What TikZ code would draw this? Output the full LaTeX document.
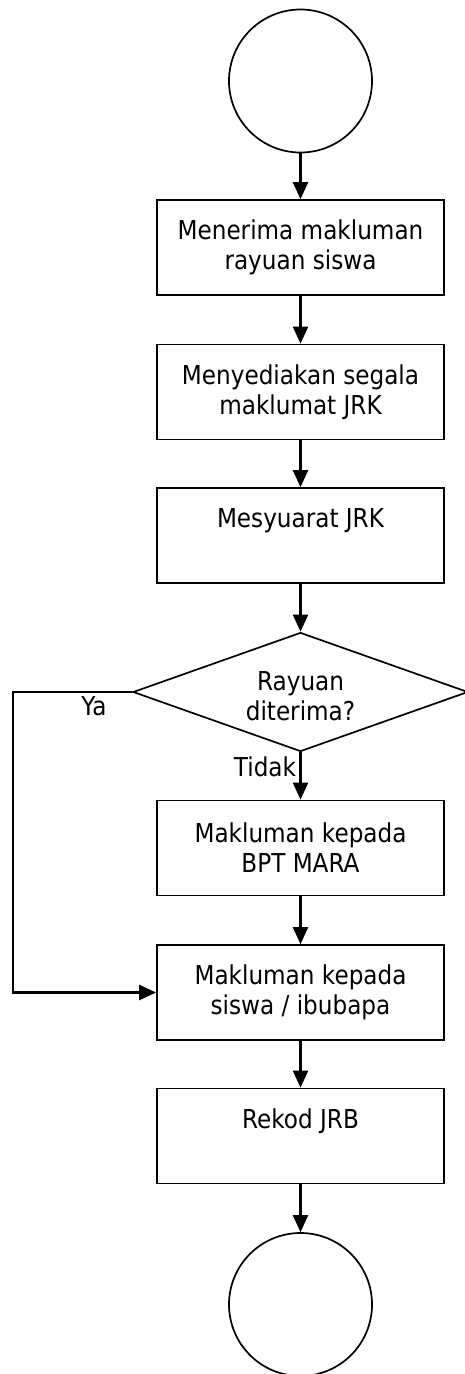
\documentclass[tikz,border=0pt]{standalone}
\usepackage{fontspec}
\setmainfont{DejaVu Sans}[FakeStretch=0.89]
\usetikzlibrary{arrows.meta,shapes.geometric,positioning}

\begin{document}
\begin{tikzpicture}[x=1pt,y=-1pt]
			\tikzstyle{every node}=[font=\fontsize{26}{30}\selectfont]
			\tikzstyle{proc}=[draw, line width=1.7pt, minimum width=287pt, minimum height=95pt, align=center, inner sep=0pt]
			\tikzstyle{term}=[draw, circle, line width=1.7pt, minimum size=143pt, inner sep=0pt]
			\tikzstyle{dec}=[draw, diamond, shape aspect=2.8, line width=1.7pt, minimum width=335pt, minimum height=119pt, align=center, inner sep=0pt]
			\tikzstyle{flow}=[line width=2.3pt, -{Triangle[length=17pt,width=15pt]}]
			\useasboundingbox (0,0) rectangle (465,1374);
			\node [term] (start) at (300.5,81) {};
			\node [proc] (receive) at (300.5,247.5) {Menerima makluman\\rayuan siswa};
			\node [proc] (prepare) at (300.5,392) {Menyediakan segala\\maklumat JRK};
			\node [proc] (meeting) at (300.5,535.5) {Mesyuarat JRK\\\vphantom{y}};
			\node [dec] (accepted) at (300.5,692) {\rule{0pt}{27pt}Rayuan\\diterima?};
			\node [proc] (tellbpt) at (300.5,848) {Makluman kepada\\BPT MARA};
			\node [proc] (tellparent) at (300.5,992.5) {Makluman kepada\\siswa / ibubapa};
			\node [proc] (record) at (300.5,1136) {Rekod JRB\\\vphantom{y}};
			\node [term] (stop) at (300.5,1304.5) {};
			\coordinate (yacorner) at (13,692);
			\draw [flow] (start) -- (receive);
			\draw [flow] (receive) -- (prepare);
			\draw [flow] (prepare) -- (meeting);
			\draw [flow] (meeting) -- (accepted);
			\draw [flow] (accepted.south) -- node [left, pos=0.3] {Tidak} (tellbpt);
			\draw [flow] (accepted.west) -- node [below, pos=0.32] {Ya} (yacorner) |- (tellparent.west);
			\draw [flow] (tellbpt) -- (tellparent);
			\draw [flow] (tellparent) -- (record);
			\draw [flow] (record) -- (stop);
		\end{tikzpicture}
\end{document}
